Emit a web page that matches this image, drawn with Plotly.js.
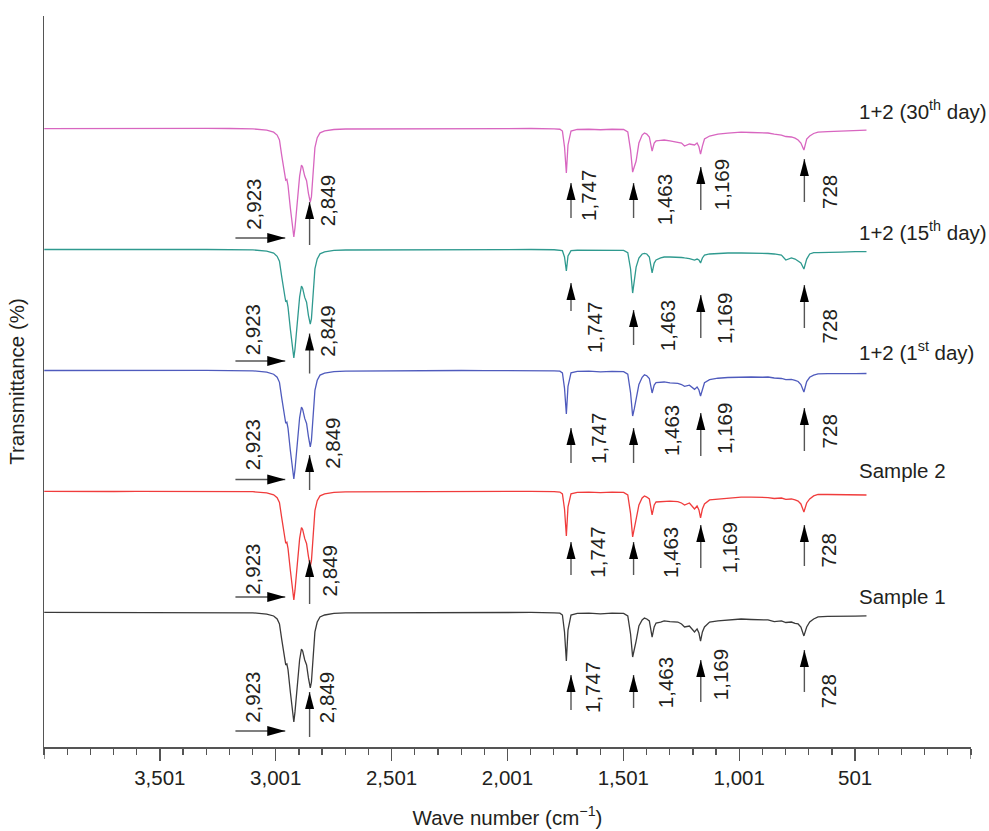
<!DOCTYPE html>
<html><head><meta charset="utf-8">
<script src="https://cdn.plot.ly/plotly-3.0.1.min.js"></script>
<style>html,body{margin:0;padding:0;background:#fff}#chart{width:989px;height:831px}</style>
</head><body><div id="chart"></div>
<script>
// Wave numbers (cm-1), shared by all spectra
const waveNumber = [
 4000,3900,3800,3700,3600,3500,3400,3300,3200,3100,
 3040,3010,2995,2985,2975,2965,2958,2953,2948,2938,
 2928,2923,2918,2908,2898,2890,2885,2876,2868,2860,
 2852,2847,2840,2832,2822,2810,2790,2750,2700,2600,
 2500,2400,2300,2200,2100,2000,1900,1800,1775,1764,
 1755,1747,1740,1727,1700,1650,1600,1550,1500,1482,
 1470,1461,1454,1446,1434,1420,1410,1400,1389,1377,
 1368,1360,1340,1325,1300,1266,1250,1237,1216,1194,
 1183,1175,1168,1160,1151,1129,1093,1050,993,950,
 900,877,850,819,800,776,760,747,735,722,
 710,697,680,661,620,560,500,452];

const sample1 = [
 94.6,94.6,94.8,94.6,94.6,94.8,94.6,94.7,94.6,94.3,
 93.3,91.7,89.2,85.1,71.9,57.8,51.2,52.0,47.1,28.9,
 9.0,4.1,12.4,35.5,55.3,64.4,62.8,55.3,51.2,40.5,
 32.2,37.1,57.8,78.5,86.7,90.9,92.5,93.8,94.2,94.3,
 94.5,94.3,94.5,94.6,94.6,94.7,94.6,94.3,94.0,92.5,
 78.5,54.5,80.1,92.5,93.8,94.0,93.5,94.0,93.8,91.7,
 76.8,57.8,63.6,71.0,83.4,88.4,90.0,89.2,87.6,74.3,
 82.6,85.9,86.7,87.6,87.1,86.7,85.1,82.6,83.4,78.5,
 81.0,77.6,71.0,78.5,82.6,86.7,87.6,88.4,89.2,88.8,
 88.4,88.4,87.1,87.6,86.3,86.7,85.5,85.1,82.6,75.2,
 82.6,86.7,89.2,90.9,91.3,91.7,91.5,91.7];

const sample2 = [
 94.7,94.5,94.7,94.6,94.7,94.6,94.7,94.5,94.6,94.4,
 93.4,91.8,89.5,85.5,72.5,58.5,51.8,52.6,47.5,29.5,
 9.8,4.9,13.0,36.0,55.8,64.8,63.2,55.8,51.6,41.0,
 32.6,37.5,58.2,78.8,87.0,91.0,92.6,93.9,94.3,94.4,
 94.5,94.4,94.6,94.6,94.7,94.6,94.7,94.4,94.1,92.6,
 80.1,57.8,81.8,92.6,93.9,94.1,93.6,94.0,93.9,91.8,
 76.5,57.0,63.6,70.2,83.4,89.2,90.9,90.0,88.4,75.2,
 83.4,85.9,86.3,86.3,86.7,86.3,85.1,83.4,85.1,80.1,
 82.6,79.3,72.7,80.1,84.3,87.6,88.4,89.2,90.0,90.0,
 90.0,89.6,88.8,89.2,88.0,88.4,87.6,86.7,84.3,77.6,
 85.1,88.4,90.9,92.1,92.1,92.1,91.9,91.7];

const day1 = [
 94.6,94.7,94.6,94.6,94.8,94.6,94.6,94.7,94.5,94.3,
 93.2,91.5,89.0,84.8,71.5,57.5,51.0,51.8,46.8,28.5,
 9.5,4.9,12.8,35.8,55.5,64.4,62.6,55.0,50.8,40.0,
 31.5,36.8,57.5,78.2,86.5,90.8,92.4,93.7,94.1,94.3,
 94.4,94.3,94.5,94.6,94.5,94.6,94.6,94.3,94.0,92.6,
 80.0,58.6,81.5,92.6,93.8,94.0,93.4,93.9,93.7,91.6,
 76.2,57.0,62.8,70.5,83.0,89.0,91.0,90.3,88.0,76.0,
 82.5,84.5,84.8,85.1,84.3,84.0,83.0,81.5,82.5,79.0,
 81.0,78.5,73.5,79.5,84.5,87.0,88.2,88.8,89.2,89.2,
 89.0,89.2,88.4,88.0,87.0,87.2,86.5,85.5,83.0,76.8,
 85.5,89.0,90.8,91.8,92.0,92.3,92.0,92.1];

const day15 = [
 94.6,94.7,94.6,94.7,94.6,94.7,94.6,94.6,94.5,94.3,
 93.3,91.6,89.0,85.0,71.8,57.6,51.4,52.2,47.0,28.8,
 9.0,4.9,12.5,35.5,55.2,64.4,62.6,55.0,51.0,40.2,
 33.0,37.5,58.0,78.6,86.8,91.0,92.6,93.8,94.2,94.3,
 94.5,94.3,94.5,94.6,94.6,94.7,94.6,94.4,94.2,93.6,
 88.4,76.8,89.2,93.6,94.0,94.0,93.6,94.0,93.8,92.0,
 78.5,58.6,68.6,80.1,87.6,90.9,91.4,90.9,88.4,75.2,
 83.4,85.9,87.6,88.4,88.4,88.4,88.0,87.6,87.1,85.9,
 86.7,85.9,83.4,87.6,90.0,90.9,91.3,91.7,91.7,91.7,
 91.7,91.3,90.9,90.0,85.9,87.6,86.7,85.1,83.4,78.5,
 86.7,90.9,92.1,92.1,92.5,92.5,92.9,92.9];

const day30 = [
 94.5,94.6,94.6,94.7,94.5,94.6,94.6,94.7,94.6,94.3,
 93.2,91.6,89.2,85.2,72.0,57.8,52.0,52.6,47.5,29.0,
 9.2,4.9,12.6,35.6,55.3,64.4,62.8,55.3,51.5,41.0,
 33.8,38.3,58.5,78.8,87.0,91.0,92.6,93.8,94.2,94.3,
 94.5,94.3,94.5,94.6,94.6,94.7,94.6,94.3,94.0,92.5,
 79.5,57.8,81.0,92.5,93.8,94.0,93.6,94.0,93.8,91.8,
 76.8,58.6,62.8,67.7,82.6,89.2,90.9,90.0,87.6,76.0,
 82.6,84.3,84.8,85.1,84.3,83.4,82.6,80.1,81.8,81.0,
 82.6,79.5,73.5,80.1,85.9,88.4,90.0,90.8,91.7,91.3,
 91.0,90.9,90.0,89.2,88.0,87.6,86.7,85.1,82.6,76.8,
 85.9,88.4,90.5,91.7,92.1,92.5,92.9,93.3];

const seriesNames = ['Sample 1','Sample 2','1+2 (1<sup>st</sup> day)','1+2 (15<sup>th</sup> day)','1+2 (30<sup>th</sup> day)'];
const seriesData = [sample1, sample2, day1, day15, day30];
const offsets = [0, 100, 200, 300, 400];
const peakLabels = ['2,923','2,849','1,747','1,463','1,169','728'];
const tickVals = [3501,3001,2501,2001,1501,1001,501];
const tickText = ['3,501','3,001','2,501','2,001','1,501','1,001','501'];
const axisEnds = [4001, 1];

// ---- styling / geometry ----
const colors = ['#3a3a3a','#f03c3c','#4f5bbd','#2f9a8f','#d866c0'];
const FONT = 'Liberation Sans, Arial, sans-serif';
const TXT = '#231f20';
const FS = 20.5;
const K = 1.21;      // px per unit
const BASE = 95;     // baseline level
function yAt(i, depthPx){ return offsets[i] + BASE - depthPx / K; }

// per-series annotation geometry (px below each baseline)
const geo = [
 {h:119, v:[80,125], l1:85, l2:86, a:[[63,98],[63,96],[48,90],[38,80]], l:[76,71,63,79], lx:[1632,1316,1079,612], l2x:2779},
 {h:106, v:[69,113], l1:78, l2:80, a:[[51,84],[51,84],[34,77],[34,75]], l:[61,62,57,59], lx:[1612,1295,1043,612], l2x:2765},
 {h:109.5, v:[85,120], l1:74.5, l2:73.5, a:[[58,93],[58,93],[43,86],[38,81]], l:[68,61,58,61], lx:[1611,1295,1067,612], l2x:2757},
 {h:112, v:[84.5,124.5], l1:80.5, l2:82.5, a:[[34,62],[61,96],[46,89],[36,79]], l:[78,77,69,77], lx:[1628,1312,1067,612], l2x:2779},
 {h:110, v:[74,117], l1:76, l2:73, a:[[55,90],[55,90],[39,82],[31,74]], l:[67,72,57,63.5], lx:[1654,1325,1079,612], l2x:2779}
];
const nameRise = [15, 20, 19.5, 18.5, 18];
const arrowX = [1727, 1457, 1167, 720];

const traces = seriesData.map((d, i) => ({
  type:'scatter', mode:'lines', x: waveNumber, y: d.map(v => v + offsets[i]),
  line:{color: colors[i], width:1.3}, hoverinfo:'skip', showlegend:false
}));

const ann = [];
const shapes = [];
const UP_HEAD = 'M0,0 L-4.5,-17 L4.5,-17 Z';
const RIGHT_HEAD = 'M0,0 L-18,5 L-18,-5 Z';
function arrow(x, y, ax, ay, head){
  shapes.push({type:'line', xref:'x', yref:'y', x0:ax, y0:ay, x1:x, y1:y, line:{color:'#555', width:1.4}});
  shapes.push({type:'path', xref:'x', yref:'y', xsizemode:'pixel', ysizemode:'pixel', xanchor:x, yanchor:y,
    path: head, fillcolor:'#000', line:{width:0}});
}
function label(text, x, y){
  ann.push({x:x, y:y, xref:'x', yref:'y', text:text, showarrow:false, textangle:-90,
    font:{family:FONT, size:FS, color:TXT}, xanchor:'center', yanchor:'middle'});
}
geo.forEach((g, i) => {
  arrow(2960, yAt(i, g.h), 3175, yAt(i, g.h), RIGHT_HEAD);
  arrow(2855, yAt(i, g.v[0]), 2855, yAt(i, g.v[1]), UP_HEAD);
  label(peakLabels[0], 3100, yAt(i, g.l1));
  label(peakLabels[1], g.l2x, yAt(i, g.l2));
  for (let k = 0; k < 4; k++){
    arrow(arrowX[k], yAt(i, g.a[k][0]), arrowX[k], yAt(i, g.a[k][1]), UP_HEAD);
    label(peakLabels[k+2], g.lx[k], yAt(i, g.l[k]));
  }
  ann.push({x:492, y:offsets[i] + BASE + nameRise[i]/K, xref:'x', yref:'y', text:seriesNames[i],
    showarrow:false, xanchor:'left', yanchor:'middle', font:{family:FONT, size:FS, color:TXT}});
});
// long ticks at both ends of the x axis
axisEnds.forEach(v => shapes.push({type:'line', xref:'x', yref:'paper', ysizemode:'pixel', yanchor:0,
  x0:v, x1:v, y0:0, y1:-12, line:{color:'#555', width:1.3}}));

const layout = {
  width:989, height:831, paper_bgcolor:'#fff', plot_bgcolor:'#fff',
  margin:{l:44, r:18, t:16, b:84},
  font:{family:FONT, size:FS, color:TXT},
  xaxis:{range:[4001,1], showgrid:false, zeroline:false, showline:true, linecolor:'#555', linewidth:1.5,
    ticks:'outside', ticklen:12, tickwidth:1.3, tickcolor:'#555',
    tickmode:'array', tickvals:tickVals, ticktext:tickText,
    tickfont:{family:FONT, size:FS, color:TXT},
    minor:{ticks:'outside', ticklen:6, tickwidth:1.3, tickcolor:'#555', tickmode:'linear', tick0:1, dtick:100, showgrid:false},
    title:{text:'Wave number (cm<sup>\u22121</sup>)', font:{family:FONT, size:FS, color:TXT}, standoff:22}},
  yaxis:{range:[-16.6,587.6], showgrid:false, zeroline:false, showline:true, linecolor:'#555', linewidth:1.5,
    ticks:'', showticklabels:false,
    title:{text:'Transmittance (%)', font:{family:FONT, size:FS, color:TXT}, standoff:12}},
  annotations: ann,
  shapes: shapes
};
Plotly.newPlot('chart', traces, layout, {displayModeBar:false, staticPlot:true});
</script></body></html>
